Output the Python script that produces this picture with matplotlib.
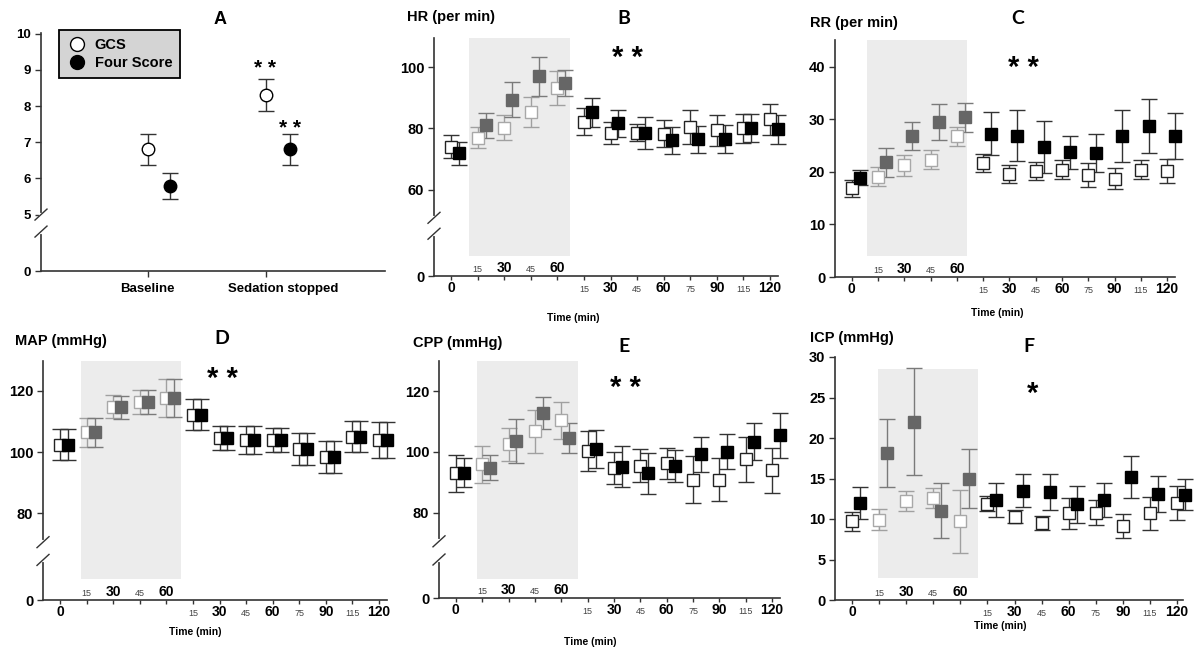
import matplotlib
matplotlib.use("Agg")

import matplotlib.pyplot as plt
from matplotlib.lines import Line2D

plt.rcParams['font.family'] = ['Liberation Sans', 'DejaVu Sans']
plt.rcParams['font.weight'] = 'bold'

W, H = 1200, 658

# x axis of panels B-F: 0 = baseline, 1-4 = during sedation, 5-12 = after sedation stopped
time_labels = ["0", "15", "30", "45", "60", "15", "30", "45", "60", "75", "90", "115", "120"]
big_label = [True, False, True, False, True, False, True, False, True, False, True, False, True]
sed_idx = [1, 2, 3, 4]

# panel A
a_groups = ["Baseline", "Sedation stopped"]
gcs_mean = [6.8, 8.3]
gcs_err = [0.43, 0.45]
four_mean = [5.8, 6.8]
four_err = [0.36, 0.43]

# HR (per min)
hr_open = [74.0, 77.0, 80.2, 85.4, 93.2, 82.2, 78.4, 78.6, 78.3, 80.5, 79.4, 80.0, 83.0]
hr_open_err = [3.8, 3.5, 4.0, 4.8, 5.5, 4.3, 3.6, 2.8, 4.4, 5.6, 5.0, 4.8, 5.1]
hr_fill = [71.8, 81.0, 89.4, 97.0, 94.7, 85.2, 81.6, 78.6, 76.1, 76.4, 76.4, 80.0, 79.7]
hr_fill_err = [3.9, 4.0, 5.7, 6.3, 4.2, 4.8, 4.5, 5.2, 4.4, 4.5, 4.6, 4.6, 4.7]

# RR (per min)
rr_open = [16.9, 19.1, 21.3, 22.3, 26.8, 21.7, 19.6, 20.1, 20.4, 19.4, 18.7, 20.4, 20.2]
rr_open_err = [1.6, 1.8, 2.0, 1.8, 1.8, 1.8, 1.7, 1.7, 1.8, 2.2, 2.0, 1.8, 2.3]
rr_fill = [18.9, 21.8, 26.8, 29.5, 30.4, 27.3, 26.9, 24.7, 23.7, 23.6, 26.8, 28.7, 26.9]
rr_fill_err = [1.4, 2.8, 2.7, 3.5, 2.8, 4.1, 4.8, 5.0, 3.2, 3.6, 4.9, 5.1, 4.4]

# MAP (mmHg)
map_open = [102.5, 106.5, 114.9, 116.5, 117.7, 112.3, 104.7, 104.1, 104.1, 101.1, 98.5, 105.1, 104.1]
map_open_err = [5.2, 4.8, 3.8, 3.9, 6.2, 5.1, 4.0, 4.6, 3.9, 5.2, 5.2, 5.0, 5.9]
map_fill = [102.5, 106.5, 114.7, 116.5, 117.7, 112.3, 104.7, 104.1, 104.1, 101.1, 98.5, 105.1, 104.1]
map_fill_err = [5.2, 4.8, 3.8, 3.9, 6.2, 5.1, 4.0, 4.6, 3.9, 5.2, 5.2, 5.0, 5.9]

# CPP (mmHg)
cpp_open = [92.9, 95.9, 102.5, 106.8, 110.4, 100.2, 94.7, 95.4, 96.2, 90.9, 90.9, 97.5, 94.0]
cpp_open_err = [6.2, 6.2, 5.5, 7.0, 6.1, 6.6, 5.2, 5.4, 5.0, 7.6, 7.0, 7.5, 7.4]
cpp_fill = [93.1, 94.8, 103.5, 112.8, 104.6, 100.9, 95.1, 92.9, 95.4, 99.2, 100.0, 103.3, 105.5]
cpp_fill_err = [4.8, 4.1, 7.2, 5.2, 5.0, 6.3, 6.8, 6.9, 5.3, 5.8, 5.8, 6.1, 7.4]

# ICP (mmHg)
icp_open = [9.7, 9.9, 12.2, 12.6, 9.7, 11.9, 10.3, 9.5, 10.7, 10.8, 9.1, 10.7, 12.0]
icp_open_err = [1.2, 1.3, 1.2, 1.2, 3.9, 0.9, 0.8, 0.85, 1.9, 1.55, 1.5, 2.0, 2.1]
icp_fill = [12.0, 18.1, 22.0, 11.0, 15.0, 12.4, 13.5, 13.3, 11.8, 12.4, 15.2, 13.1, 13.0]
icp_fill_err = [1.95, 4.2, 6.6, 3.4, 3.6, 2.1, 2.0, 2.2, 2.3, 2.1, 2.6, 2.2, 1.9]

fig = plt.figure(figsize=(12, 6.58), dpi=100)


def px_axes(left, top, right, bottom):
    return fig.add_axes([left / W, 1 - bottom / H, (right - left) / W, (bottom - top) / H])


def ftext(x, y, s, **kw):
    fig.text(x / W, 1 - y / H, s, **kw)


def style_axes(ax):
    for side in ["top", "right"]:
        ax.spines[side].set_visible(False)
    for side in ["left", "bottom"]:
        ax.spines[side].set_linewidth(1.2)
        ax.spines[side].set_color("#333333")
    ax.tick_params(axis="both", direction="out", length=4, width=1, color="#333333")


def axis_break(ax, y1, y2):
    # white gap in the y spine plus two slashes
    bb = ax.get_position()
    hp = bb.height * H
    wp = bb.width * W
    trans = ax.get_yaxis_transform()
    ax.plot([0, 0], [y2, y1], color="white", lw=3, transform=trans, clip_on=False, zorder=5)
    lo, hi = ax.get_ylim()
    dx = 6.0 / wp
    dy = 5.5 / hp * (hi - lo)
    for yy in (y1, y2):
        ax.plot([-dx, dx], [yy - dy, yy + dy], color="#333333", lw=1,
                transform=trans, clip_on=False, zorder=6)


def errbars(ax, x, y, e, face, edge, ecol):
    cont = ax.errorbar(x, y, yerr=e, fmt="s", ms=8.3, mfc=face, mec=edge, mew=1,
                       ecolor=ecol, elinewidth=1, capsize=6, capthick=1, zorder=3)
    for art in cont.lines[:1] + tuple(cont.lines[1]) + tuple(cont.lines[2]):
        if art is not None:
            art.set_clip_on(False)


def time_panel(box, ylim, yticks, ytl, open_v, open_e, fill_v, fill_e,
               shade, brk=None, xlim=(-0.64, 12.3)):
    ax = px_axes(*box)
    style_axes(ax)
    ax.set_xlim(*xlim)
    ax.set_ylim(*ylim)
    ax.axvspan(shade[0], shade[1], ymin=shade[2], ymax=shade[3], color="#ececec", lw=0, zorder=0)
    post = [i for i in range(len(time_labels)) if i not in sed_idx]
    for idx, gray in ((sed_idx, True), (post, False)):
        xo = [i for i in idx]
        xf = [i + 0.3 for i in idx]
        if gray:
            errbars(ax, xo, [open_v[i] for i in idx], [open_e[i] for i in idx],
                    "white", "#a8a8a8", "#a0a0a0")
            errbars(ax, xf, [fill_v[i] for i in idx], [fill_e[i] for i in idx],
                    "#666666", "#666666", "#7a7a7a")
        else:
            errbars(ax, xo, [open_v[i] for i in idx], [open_e[i] for i in idx],
                    "white", "#222222", "#333333")
            errbars(ax, xf, [fill_v[i] for i in idx], [fill_e[i] for i in idx],
                    "black", "black", "#333333")
    ax.set_yticks(yticks)
    ax.set_yticklabels(ytl, fontsize=10.5, fontweight="bold")
    ax.tick_params(axis="y", pad=3)
    ax.set_xticks(range(len(time_labels)))
    ax.set_xticklabels([])
    ax.tick_params(axis="x", length=3)
    for i, lab in enumerate(time_labels):
        big = big_label[i]
        fs = 10 if big else 6.5
        col = "black" if big else "#444444"
        fw = "bold" if big else "normal"
        off = 3 if i in sed_idx else -11.5
        ax.annotate(lab, xy=(i, 0), xycoords=("data", "axes fraction"),
                    xytext=(0, off), textcoords="offset points",
                    ha="center", va="baseline", fontsize=fs, color=col, fontweight=fw)
    if brk is not None:
        axis_break(ax, brk[0], brk[1])
    return ax


# ---------------- panel A ----------------
axA = px_axes(41, 33, 385, 271)
style_axes(axA)
axA.set_xlim(0.1, 3.0)
axA.set_ylim(3.44, 10.02)
axA.errorbar([1, 2], gcs_mean, yerr=gcs_err, fmt="o", ms=9, mfc="white", mec="black",
             mew=1, ecolor="#333333", elinewidth=1, capsize=5.5, capthick=1)
axA.errorbar([1.19, 2.2], four_mean, yerr=four_err, fmt="o", ms=9, mfc="black", mec="black",
             mew=1, ecolor="#333333", elinewidth=1, capsize=5.5, capthick=1)
axA.set_yticks([3.44, 5, 6, 7, 8, 9, 10])
axA.set_yticklabels(["0", "5", "6", "7", "8", "9", "10"], fontsize=9.5, fontweight="bold")
axA.set_xticks([1, 2])
axA.set_xticklabels([])
for xg, lab, dx in zip([1, 2], a_groups, [0, 12]):
    axA.annotate(lab, xy=(xg, 0), xycoords=("data", "axes fraction"), xytext=(dx, -13),
                 textcoords="offset points", ha="center", va="center", fontsize=9.5,
                 fontweight="bold")
axis_break(axA, 5.0, 4.53)
handles = [Line2D([], [], ls="none", marker="o", ms=10, mfc="white", mec="black"),
           Line2D([], [], ls="none", marker="o", ms=10, mfc="black", mec="black")]
leg = axA.legend(handles, ["GCS", "Four Score"], loc="upper left",
                 bbox_to_anchor=(0.052, 1.013), borderaxespad=0, fancybox=False,
                 facecolor="#d4d4d4", edgecolor="black", framealpha=1,
                 prop={"size": 10.5, "weight": "bold"}, handletextpad=0.5,
                 handlelength=1.4, borderpad=0.55, labelspacing=0.3)
leg.get_frame().set_linewidth(1.3)

# ---------------- panels B-F ----------------
time_panel((434, 38, 778, 276), (31.8, 109.5), [31.8, 60, 80, 100], ["0", "60", "80", "100"],
           hr_open, hr_open_err, hr_fill, hr_fill_err, (0.69, 4.48, 0.085, 1.0), brk=(50.8, 45.6))
time_panel((835, 40, 1175, 277), (0, 45.1), [0, 10, 20, 30, 40], ["0", "10", "20", "30", "40"],
           rr_open, rr_open_err, rr_fill, rr_fill_err, (0.58, 4.39, 0.089, 1.0))
time_panel((43, 361, 387, 600), (51.7, 129.8), [51.7, 80, 100, 120], ["0", "80", "100", "120"],
           map_open, map_open_err, map_fill, map_fill_err, (0.79, 4.55, 0.088, 1.0),
           brk=(70.6, 64.8))
time_panel((439, 361, 780, 598), (51.8, 130), [51.8, 80, 100, 120], ["0", "80", "100", "120"],
           cpp_open, cpp_open_err, cpp_fill, cpp_fill_err, (0.8, 4.62, 0.08, 1.0),
           brk=(70.5, 64.5))
time_panel((835, 357, 1183, 600), (0, 30), [0, 5, 10, 15, 20, 25, 30],
           ["0", "5", "10", "15", "20", "25", "30"],
           icp_open, icp_open_err, icp_fill, icp_fill_err, (0.95, 4.65, 0.09, 0.95),
           xlim=(-0.63, 12.22))

# ---------------- texts ----------------
ftext(220, 19, "A", fontsize=13, fontweight="bold", ha="center", va="center")
for x, y, s in [(624, 18, "B"), (1018, 18, "C"), (222, 339, "D"), (624, 347, "E"), (1029, 347, "F")]:
    ftext(x, y, s, fontsize=14, fontweight="bold", ha="center", va="center",
          family=["Lato", "DejaVu Sans"])

for x, y, s in [(407, 17, "HR (per min)"), (810, 23, "RR (per min)"), (15, 341, "MAP (mmHg)"),
                (413, 343, "CPP (mmHg)"), (810, 338, "ICP (mmHg)")]:
    ftext(x, y, s, fontsize=10.5, fontweight="bold", ha="left", va="center")

for x, y in [(573, 318), (997, 313), (195, 632), (590, 642), (1000, 626)]:
    ftext(x, y, "Time (min)", fontsize=7.5, fontweight="bold", ha="center", va="center")

# significance marks
ftext(265, 68, "* *", fontsize=15, ha="center", va="center")
ftext(290, 128, "* *", fontsize=15, ha="center", va="center")
for x, y, s in [(627, 58, "* *"), (1023, 68, "* *"), (222, 379, "* *"), (625, 388, "* *"),
                (1033, 394, "*")]:
    ftext(x, y, s, fontsize=21, ha="center", va="center")

fig.savefig("out.png", dpi=100)
